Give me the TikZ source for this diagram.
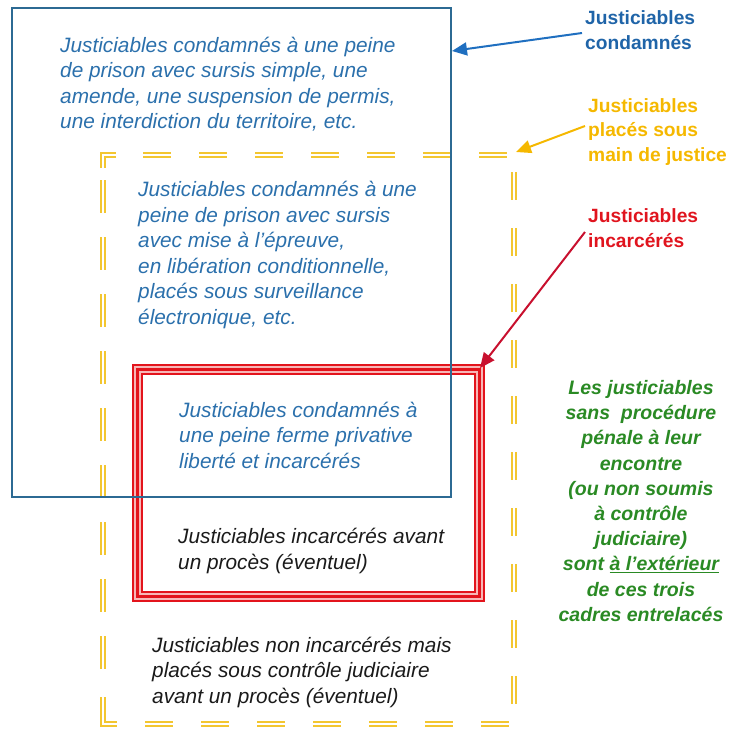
\documentclass[tikz,border=0pt]{standalone}
\usepackage{fontspec}
\setmainfont{Liberation Sans}
\usepackage{xcolor}
\usetikzlibrary{arrows.meta}

\definecolor{bleu}{HTML}{2B70AC}
\definecolor{bleucadre}{HTML}{2C6A93}
\definecolor{bleulabel}{HTML}{1F64A8}
\definecolor{bleufleche}{HTML}{1F6FC0}
\definecolor{jaune}{HTML}{F3C630}
\definecolor{jaunelabel}{HTML}{F5B800}
\definecolor{rouge}{HTML}{E3141C}
\definecolor{rose}{HTML}{F7B7B7}
\definecolor{rougelabel}{HTML}{E0141E}
\definecolor{rougefleche}{HTML}{C8102E}
\definecolor{vert}{HTML}{2A8A24}
\definecolor{noir}{HTML}{1A1A1A}

\begin{document}
\begin{tikzpicture}[x=1pt, y=-1pt,
	corps/.style={anchor=west, inner sep=0pt, align=left, font=\fontsize{20.8}{25.5}\selectfont\itshape},
	etiquette/.style={anchor=west, inner sep=3pt, align=left, font=\fontsize{19.2}{24.8}\selectfont\bfseries},
	fleche/.style={-{Triangle[length=15pt,width=13pt]}, line width=2pt},
	cadrejaune/.style={draw=jaune, line width=2pt, double=white, double distance=2.2pt}]

	\useasboundingbox (0,0) rectangle (732,729);

	% yellow frame (double dashed)
	\draw[cadrejaune] (116,155) -- (103,155) -- (103,168);
	\draw[cadrejaune, dash pattern=on 28pt off 28pt] (143,155) -- (514,155);
	\draw[cadrejaune, dash pattern=on 28pt off 28pt] (514,172) -- (514,724);
	\draw[cadrejaune, dash pattern=on 33pt off 24pt] (103,180) -- (103,672);
	\draw[cadrejaune] (103,697) -- (103,724) -- (117,724);
	\draw[cadrejaune, dash pattern=on 28pt off 28pt] (145,724) -- (514,724);

	% red frame (triple line)
	\draw[rose, line width=8.5pt] (137.3,369.3) rectangle (479.7,596.7);
	\draw[rouge, line width=1.2pt] (133,365) rectangle (484,601);
	\draw[rouge, line width=3pt] (137.5,369.5) rectangle (479.5,596.5);
	\draw[rouge, line width=1.2pt] (142,374) rectangle (475,592);

	% blue frame
	\draw[bleucadre, line width=1.8pt] (12,8) rectangle (451,497);

	% Text nodes
	\node[corps, text=bleu] (sursis) at (60,84) {Justiciables condamnés à une peine\\de prison avec sursis simple, une\\amende, une suspension de permis,\\une interdiction du territoire, etc.};
	\node[corps, text=bleu] (epreuve) at (138,255) {Justiciables condamnés à une\\peine de prison avec sursis\\avec mise à l’épreuve,\\en libération conditionnelle,\\placés sous surveillance\\électronique, etc.};
	\node[corps, text=bleu] (ferme) at (179,435) {Justiciables condamnés à\\une peine ferme privative\\liberté et incarcérés};
	\node[corps, text=noir] (prevenus) at (178,551) {Justiciables incarcérés avant\\un procès (éventuel)};
	\node[corps, text=noir] (controle) at (152,672) {Justiciables non incarcérés mais\\placés sous contrôle judiciaire\\avant un procès (éventuel)};

	\node[align=center, inner sep=0pt, text=vert, font=\fontsize{19.5}{25.2}\selectfont\bfseries\itshape] (dehors) at (641,501) {Les justiciables\\sans\ \ procédure\\pénale à leur\\encontre\\(ou non soumis\\à contrôle\\judiciaire)\\sont \underline{à l’extérieur}\\de ces trois\\cadres entrelacés};

	% labels
	\node[etiquette, text=bleulabel] (lcond) at (582,30) {Justiciables\\condamnés};
	\node[etiquette, text=jaunelabel] (lmain) at (585,132) {Justiciables\\placés sous\\main de justice};
	\node[etiquette, text=rougelabel] (lincar) at (585,228) {Justiciables\\incarcérés};

	% Arrows
	\coordinate (pcond) at (452,51);
	\coordinate (pmain) at (516,152);
	\coordinate (pincar) at (480,368);
	\draw[fleche, bleufleche] ([yshift=-3pt]lcond.west) -- (pcond);
	\draw[fleche, jaunelabel] ([yshift=6pt]lmain.west) -- (pmain);
	\draw[fleche, rougefleche] ([yshift=-4pt]lincar.west) -- (pincar);
\end{tikzpicture}
\end{document}
